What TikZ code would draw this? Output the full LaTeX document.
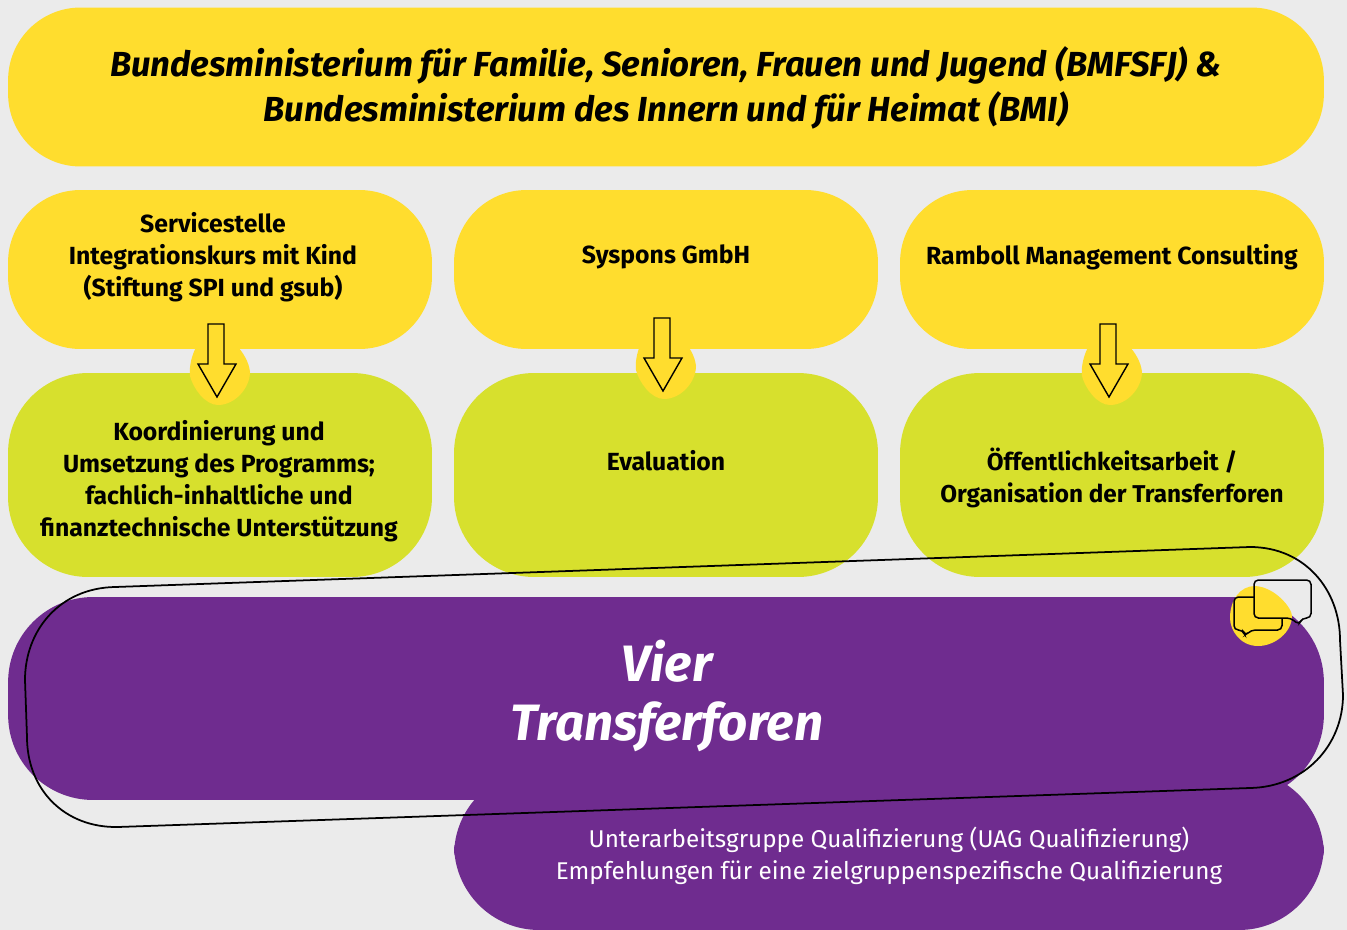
\documentclass[tikz,border=0pt]{standalone}
\usepackage{fontspec}
\setmainfont{Fira Sans}
\usepackage{xcolor}
\definecolor{page-grey}{HTML}{EBEBEB}
\definecolor{sun-yellow}{HTML}{FFDD2E}
\definecolor{lime-green}{HTML}{D7E02D}
\definecolor{deep-purple}{HTML}{6F2C8F}
\usetikzlibrary{calc,positioning}
\tikzset{
    panel/.style = {rectangle, inner sep=0pt, rounded corners=1.45cm, minimum width=8.48cm},
    headbox/.style = {panel, fill=sun-yellow, minimum height=3.18cm},
    taskbox/.style = {panel, fill=lime-green, minimum height=4.08cm, rounded corners=1.6cm},
    forumbox/.style = {panel, fill=deep-purple, rounded corners=1.7cm},
    boxtext/.style = {align=center, font=\fontsize{14.1}{18.1}\selectfont\bfseries},
    arrowshape/.style = {draw=black, line width=0.8pt, line join=miter},
    bubble/.style = {draw=black, line width=0.85pt, rounded corners=2.5pt}
}

\begin{document}
\begin{tikzpicture}[x=0.02cm, y=-0.02cm]
      \fill[page-grey] (0,0) rectangle (1347,930);
      \useasboundingbox (0,0) rectangle (1347,930);

      \node[headbox, minimum width=26.32cm] (ministry) at (666,87) {};
      \node[boxtext, font=\fontsize{19.8}{25.5}\selectfont\bfseries\itshape] (ministrytext) at (666,88) {Bundesministerium für Familie, Senioren, Frauen und Jugend (BMFSFJ) \&\\Bundesministerium des Innern und für Heimat (BMI)};

      \node[headbox] (service) at (220,269.5) {};
      \node[headbox] (syspons) at (666,269.5) {};
      \node[headbox] (ramboll) at (1112,269.5) {};

      \node[taskbox] (coordination) at (220,475) {};
      \node[taskbox] (evaluation) at (666,475) {};
      \node[taskbox] (publicity) at (1112,475) {};

      % yellow blobs with the block arrows
      \foreach \dx/\dy in {0/0, 446/-6, 892/0} {
        \begin{scope}[shift={(\dx,\dy)}]
          \fill[sun-yellow] (197,345) .. controls (192,355) and (189,365) .. (190,376)
            .. controls (193,388) and (205,405) .. (218,405)
            .. controls (235,405) and (250,388) .. (250,372)
            .. controls (249,362) and (243,352) .. (236,345) -- cycle;
          \draw[arrowshape] (208,324) -- (224,324) -- (224,364) -- (236,364) -- (217,397) -- (198,364) -- (208,364) -- cycle;
        \end{scope}
      }

      \node[forumbox, minimum width=17.4cm, minimum height=3.2cm] (subgroup) at (889,850) {};
      \node[forumbox, minimum width=26.32cm, minimum height=4.06cm] (forums) at (666,698.5) {};

      % tilted outline round the forums
      \draw[black, line width=1pt] (115,587) -- (1250,547)
        .. controls (1305,547) and (1340,590) .. (1340,640) -- (1343,695)
        .. controls (1343,745) and (1305,787) .. (1250,788) -- (118,827)
        .. controls (65,828) and (27,790) .. (27,737) -- (25,680)
        .. controls (25,630) and (60,588) .. (115,587) -- cycle;

      % speech bubbles
      \fill[sun-yellow] (1255,586) .. controls (1275,587) and (1292,608) .. (1292,616)
        .. controls (1292,632) and (1275,646) .. (1258,646)
        .. controls (1240,646) and (1230,630) .. (1230,618)
        .. controls (1230,600) and (1240,586) .. (1255,586) -- cycle;
      \draw[bubble] (1254,597) -- (1234,597) -- (1234,630) -- (1243,630) -- (1245,636) -- (1251,630) -- (1282,630) -- (1282,618);
      \draw[bubble] (1254,580) -- (1311,580) -- (1311,618) -- (1302,618) -- (1299,625) -- (1291,618) -- (1254,618) -- cycle;

      \node[boxtext] (servicetext) at (213,257) {Servicestelle\\Integrationskurs mit Kind\\(Stiftung SPI und gsub)};
      \node[boxtext] (sysponstext) at (666,257) {Syspons GmbH};
      \node[boxtext] (rambolltext) at (1112,257) {Ramboll Management Consulting};
      \node[boxtext] (coordinationtext) at (219,481) {Koordinierung und\\Umsetzung des Programms;\\fachlich-inhaltliche und\\finanztechnische Unterstützung};
      \node[boxtext] (evaluationtext) at (666,461) {Evaluation};
      \node[boxtext, font=\fontsize{13.85}{18.1}\selectfont\bfseries] (publicitytext) at (1112,478) {Öffentlichkeitsarbeit /\\Organisation der Transferforen};
      \node[white, align=center, font=\fontsize{29.1}{33.4}\selectfont\bfseries\itshape] (forumstext) at (667,696) {Vier\\Transferforen};
      \node[white, align=center, font=\fontsize{13.8}{18.1}\selectfont] (subgrouptext) at (889,856) {Unterarbeitsgruppe Qualifizierung (UAG Qualifizierung)\\Empfehlungen für eine zielgruppenspezifische Qualifizierung};
\end{tikzpicture}
\end{document}
